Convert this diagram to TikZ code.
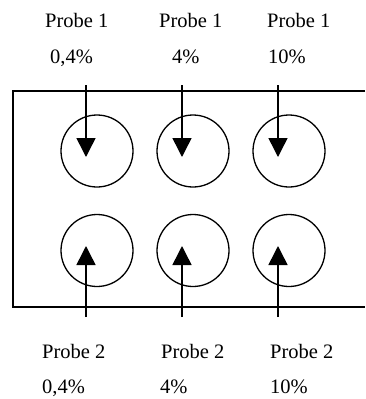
\documentclass[tikz,border=0pt]{standalone}
\usepackage{fontspec}
\setmainfont{Liberation Serif}
\usetikzlibrary{arrows.meta}
\begin{document}
\begin{tikzpicture}[x=1pt,y=-1pt,
  well/.style={draw, circle, line width=1.3pt, minimum size=72pt, inner sep=0pt},
  lbl/.style={anchor=base west, inner sep=0pt, font=\fontsize{20.5}{24}\selectfont},
  probe/.style={line width=1.5pt, -{Triangle[length=19pt,width=19pt]}},
  plate/.style={line width=1.5pt}]
\useasboundingbox (0,0) rectangle (365,399);
% plate
\coordinate (pTR) at (365,91);
\coordinate (pTL) at (13,91);
\coordinate (pBL) at (13,307);
\coordinate (pBR) at (365,307);
\draw[plate] (pTR) -- (pTL) -- (pBL) -- (pBR);
% wells
\node[well] (w1) at (97,151) {};
\node[well] (w2) at (193,151) {};
\node[well] (w3) at (289,151) {};
\node[well] (w4) at (97,250.5) {};
\node[well] (w5) at (193,250.5) {};
\node[well] (w6) at (289,250.5) {};
% probe arrows
\foreach \i/\x in {1/86,2/182,3/278}{
  \coordinate (ts\i) at (\x,85);
  \coordinate (te\i) at (\x,157);
  \coordinate (bs\i) at (\x,317);
  \coordinate (be\i) at (\x,246);
  \draw[probe] (ts\i) -- (te\i);
  \draw[probe] (bs\i) -- (be\i);
}
% labels
\node[lbl] (t1) at (45,27) {Probe 1};
\node[lbl] (t2) at (159,27) {Probe 1};
\node[lbl] (t3) at (267,27) {Probe 1};
\node[lbl] (c1) at (50,63) {0,4\%};
\node[lbl] (c2) at (172,63) {4\%};
\node[lbl] (c3) at (268,63) {10\%};
\node[lbl] (b1) at (42,358) {Probe 2};
\node[lbl] (b2) at (161,358) {Probe 2};
\node[lbl] (b3) at (270,358) {Probe 2};
\node[lbl] (d1) at (42,393) {0,4\%};
\node[lbl] (d2) at (160,393) {4\%};
\node[lbl] (d3) at (270,393) {10\%};
\end{tikzpicture}
\end{document}
